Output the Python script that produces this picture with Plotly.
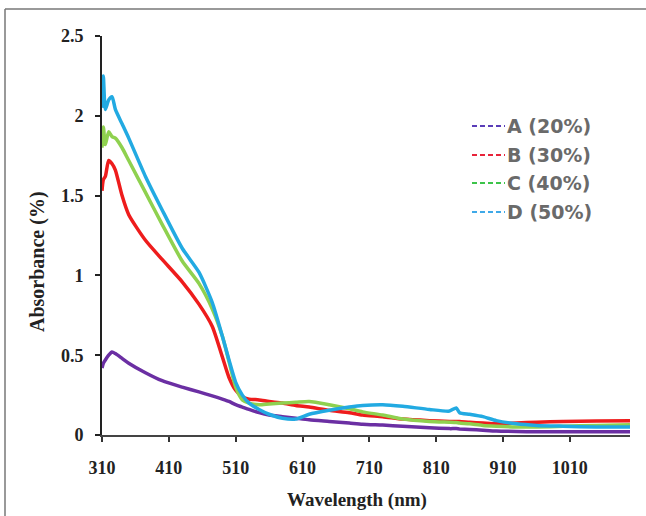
import plotly.graph_objects as go

# ---- data ----
wavelength = [310, 312, 315, 320, 325, 330, 340, 350, 375, 400, 430, 455, 475, 490, 500,
              510, 520, 530, 545, 560, 580, 600, 620, 650, 680, 700, 730, 760, 800, 830,
              840, 845, 860, 880, 900, 930, 960, 1000, 1050, 1100]

abs_A = [0.42, 0.45, 0.47, 0.50, 0.52, 0.51, 0.48, 0.45, 0.39, 0.34, 0.30, 0.27, 0.245, 0.225, 0.21,
         0.19, 0.175, 0.16, 0.14, 0.125, 0.115, 0.105, 0.095, 0.085, 0.075, 0.068, 0.062, 0.055, 0.045, 0.04,
         0.04, 0.038, 0.035, 0.03, 0.025, 0.022, 0.02, 0.02, 0.02, 0.02]

abs_B = [1.53, 1.60, 1.62, 1.72, 1.70, 1.66, 1.50, 1.38, 1.22, 1.10, 0.96, 0.82, 0.68, 0.49, 0.36,
         0.28, 0.24, 0.225, 0.22, 0.21, 0.20, 0.185, 0.175, 0.155, 0.14, 0.125, 0.115, 0.10, 0.09, 0.085,
         0.085, 0.085, 0.08, 0.075, 0.07, 0.075, 0.08, 0.085, 0.087, 0.09]

abs_C = [1.80, 1.93, 1.82, 1.90, 1.87, 1.86, 1.80, 1.72, 1.52, 1.32, 1.09, 0.95, 0.79, 0.62, 0.46,
         0.30, 0.22, 0.20, 0.19, 0.195, 0.20, 0.205, 0.21, 0.19, 0.165, 0.145, 0.125, 0.10, 0.085, 0.08,
         0.078, 0.075, 0.07, 0.06, 0.055, 0.05, 0.05, 0.055, 0.06, 0.065]

abs_D = [2.05, 2.25, 2.04, 2.10, 2.12, 2.04, 1.95, 1.86, 1.62, 1.41, 1.17, 1.02, 0.83, 0.62, 0.47,
         0.33, 0.25, 0.20, 0.16, 0.13, 0.105, 0.10, 0.13, 0.155, 0.175, 0.185, 0.19, 0.18, 0.16, 0.15,
         0.17, 0.14, 0.13, 0.115, 0.09, 0.07, 0.06, 0.055, 0.05, 0.05]

series_names = ["A (20%)", "B (30%)", "C (40%)", "D (50%)"]
series_values = [abs_A, abs_B, abs_C, abs_D]
line_colors = ["#6b2fa3", "#ee1c1c", "#8fd14f", "#22aae2"]
legend_colors = ["#5a3db8", "#e8233a", "#3cc44a", "#3fa9e8"]

x_ticks = [310, 410, 510, 610, 710, 810, 910, 1010]
y_ticks = [0, 0.5, 1, 1.5, 2, 2.5]
y_ticktext = ["0", "0.5", "1", "1.5", "2", "2.5"]

# ---- layout geometry (pixels) ----
W, H = 646, 516
L, R, T, B = 102, 630, 36, 435
def px(x): return (x - L) / (R - L)
def py(y): return (B - y) / (B - T)

fig = go.Figure()
for name, vals, col in zip(series_names, series_values, line_colors):
    fig.add_trace(go.Scatter(x=wavelength, y=vals, mode="lines", name=name,
                             line=dict(color=col, width=3.5, shape="spline", smoothing=0.6),
                             showlegend=False))

serif = "Liberation Serif"
fig.update_layout(
    width=W, height=H,
    margin=dict(l=L, r=W - R, t=T, b=H - B),
    paper_bgcolor="white", plot_bgcolor="white",
    showlegend=False,
    xaxis=dict(range=[310, 1100], tickvals=x_ticks, ticks="outside", ticklen=5, tickwidth=2,
               tickcolor="#333", showline=True, linecolor="#444", linewidth=2,
               showgrid=False, zeroline=False,
               tickfont=dict(family=serif, size=18, color="#222", weight="bold"),
               ticklabelstandoff=10),
    yaxis=dict(range=[0, 2.5], tickvals=y_ticks, ticktext=y_ticktext, ticks="outside",
               ticklen=5, tickwidth=2, tickcolor="#222", showline=True, linecolor="#222",
               linewidth=2, showgrid=False, zeroline=False,
               tickfont=dict(family=serif, size=18, color="#222", weight="bold"),
               ticklabelstandoff=8),
)

annotations = [
    dict(text="Wavelength (nm)", x=px(357), y=py(500), xref="paper", yref="paper",
         showarrow=False, xanchor="center", yanchor="middle",
         font=dict(family=serif, size=19, color="#222", weight="bold")),
    dict(text="Absorbance (%)", x=px(37), y=py(262), xref="paper", yref="paper",
         showarrow=False, xanchor="center", yanchor="middle", textangle=-90,
         font=dict(family=serif, size=20, color="#222", weight="bold")),
]
shapes = [
    dict(type="line", xref="paper", yref="paper", x0=px(5), x1=px(646), y0=py(9), y1=py(9),
         line=dict(color="#777", width=1.5)),
    dict(type="line", xref="paper", yref="paper", x0=px(5), x1=px(5), y0=py(9), y1=py(516),
         line=dict(color="#777", width=1.5)),
]
leg_y = [126, 155, 183, 212]
for name, col, yy in zip(series_names, legend_colors, leg_y):
    shapes.append(dict(type="line", xref="paper", yref="paper", x0=px(472), x1=px(505),
                       y0=py(yy), y1=py(yy), line=dict(color=col, width=2, dash="5px,3px")))
    annotations.append(dict(text=name, x=px(505), y=py(yy), xref="paper", yref="paper",
                            showarrow=False, xanchor="left", yanchor="middle",
                            font=dict(family="DejaVu Sans", size=19, color="#6a6a6a", weight="bold")))
fig.update_layout(annotations=annotations, shapes=shapes)

fig.write_html("out.html")
